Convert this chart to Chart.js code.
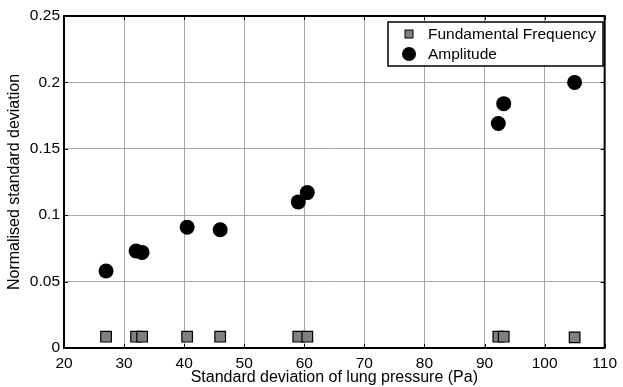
<!DOCTYPE html>
<html>
<head>
<meta charset="utf-8">
<script src="https://cdn.jsdelivr.net/npm/chart.js@4"></script>
<style>
  html, body { margin: 0; padding: 0; background: #fff; }
  #wrap { width: 623px; height: 387px; position: relative; }
</style>
</head>
<body>
<div id="wrap"><canvas id="grafico"></canvas></div>
<script>
// Valores
const presion = [27, 32, 33, 40.5, 46, 59, 60.5, 92.3, 93.2, 105];
const frecuencia = [0.0085, 0.0085, 0.0085, 0.0085, 0.0085, 0.0085, 0.0085, 0.0085, 0.0085, 0.008];
const amplitud = [0.058, 0.073, 0.072, 0.091, 0.089, 0.110, 0.117, 0.169, 0.184, 0.200];
const ticksX = [20, 30, 40, 50, 60, 70, 80, 90, 100, 110];
const ticksY = [0, 0.05, 0.1, 0.15, 0.2, 0.25];

const fuente = 'Liberation Sans, Arial, sans-serif';

const puntos = (xs, ys) => xs.map((x, i) => ({ x: x, y: ys[i] }));

// Marco, marcas hacia dentro y leyenda dentro del grafico
const marco = {
    id: 'marco',
    afterDraw(chart) {
        const { ctx, chartArea: a, scales } = chart;
        ctx.save();
        ctx.strokeStyle = '#000';
        ctx.lineWidth = 1;
        ticksX.forEach(v => {
            const px = Math.round(scales.x.getPixelForValue(v)) + 0.5;
            ctx.beginPath();
            ctx.moveTo(px, a.bottom); ctx.lineTo(px, a.bottom - 4);
            ctx.moveTo(px, a.top); ctx.lineTo(px, a.top + 4);
            ctx.stroke();
        });
        ticksY.forEach(v => {
            const py = Math.round(scales.y.getPixelForValue(v)) + 0.5;
            ctx.beginPath();
            ctx.moveTo(a.left, py); ctx.lineTo(a.left + 4, py);
            ctx.moveTo(a.right, py); ctx.lineTo(a.right - 4, py);
            ctx.stroke();
        });
        ctx.lineWidth = 2;
        ctx.strokeRect(a.left, a.top, a.right - a.left, a.bottom - a.top);

        // leyenda
        const lx = 388, ly = 22, lw = 215, lh = 44;
        ctx.fillStyle = '#fff';
        ctx.fillRect(lx, ly, lw, lh);
        ctx.lineWidth = 1.5;
        ctx.strokeRect(lx, ly, lw, lh);
        ctx.font = '15.5px ' + fuente;
        ctx.textBaseline = 'middle';
        chart.data.datasets.forEach((ds, i) => {
            const cy = ly + 12 + i * 20;
            ctx.fillStyle = ds.backgroundColor;
            ctx.strokeStyle = '#000';
            ctx.lineWidth = 1;
            if (ds.pointStyle === 'rect') {
                ctx.fillRect(405, cy - 4, 8, 8);
                ctx.strokeRect(405, cy - 4, 8, 8);
            } else {
                ctx.beginPath();
                ctx.arc(409, cy, 7, 0, Math.PI * 2);
                ctx.fill();
            }
            ctx.fillStyle = '#000';
            ctx.fillText(ds.label, 428, cy + 1);
        });
        ctx.restore();
    }
};

const ctx = document.getElementById('grafico').getContext('2d');
new Chart(ctx, {
    type: 'scatter',
    data: {
        datasets: [{
            label: 'Fundamental Frequency',
            data: puntos(presion, frecuencia),
            pointStyle: 'rect',
            pointRadius: 7.5,
            pointHoverRadius: 7.5,
            backgroundColor: '#808080',
            borderColor: '#000',
            borderWidth: 1.2
        }, {
            label: 'Amplitude',
            data: puntos(presion, amplitud),
            pointStyle: 'circle',
            pointRadius: 7.5,
            pointHoverRadius: 7.5,
            backgroundColor: '#000',
            borderColor: '#000',
            borderWidth: 0
        }]
    },
    options: {
        responsive: true,
        maintainAspectRatio: false,
        animation: false,
        layout: { padding: { top: 16, right: 15, left: 0, bottom: 0 } },
        plugins: {
            legend: { display: false },
            tooltip: { enabled: false }
        },
        scales: {
            x: {
                type: 'linear',
                min: 20, max: 110,
                afterFit: s => { s.height = 39; },
                afterBuildTicks: s => { s.ticks = ticksX.map(v => ({ value: v })); },
                grid: { color: '#a8a8a8', lineWidth: 1, drawTicks: false },
                border: { display: false },
                ticks: { color: '#000', font: { family: fuente, size: 15.5 }, padding: 6 },
                title: { display: true, text: 'Standard deviation of lung pressure (Pa)', color: '#000', font: { family: fuente, size: 16 }, padding: { top: -3, bottom: 0 } }
            },
            y: {
                min: 0, max: 0.25,
                afterFit: s => { s.width = 64; },
                afterBuildTicks: s => { s.ticks = ticksY.map(v => ({ value: v })); },
                grid: { color: '#a8a8a8', lineWidth: 1, drawTicks: false },
                border: { display: false },
                ticks: { color: '#000', font: { family: fuente, size: 15.5 }, padding: 4, callback: v => String(v) },
                title: { display: true, text: 'Normalised standard deviation', color: '#000', font: { family: fuente, size: 16 }, padding: { top: 5, bottom: 0 } }
            }
        }
    },
    plugins: [marco]
});
</script>
</body>
</html>
